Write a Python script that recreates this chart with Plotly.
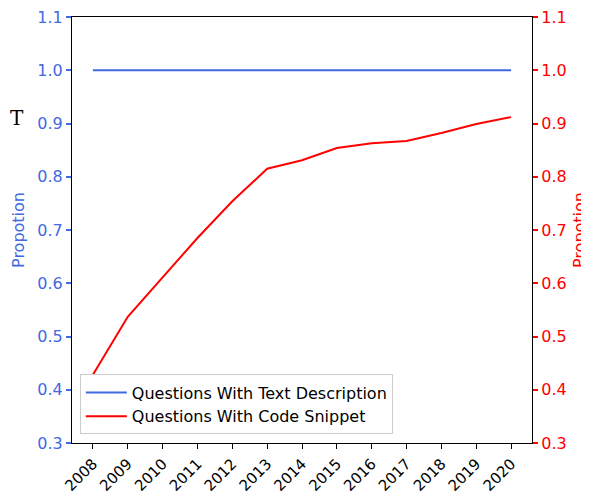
import plotly.graph_objects as go

years = [2008, 2009, 2010, 2011, 2012, 2013, 2014, 2015, 2016, 2017, 2018, 2019, 2020]
text_desc = [1.0, 1.0, 0.9995, 1.0, 1.0, 1.0, 1.0, 1.0, 1.0, 1.0, 1.0, 1.0, 1.0]
code_snip = [0.428, 0.537, 0.611, 0.685, 0.754, 0.815, 0.831, 0.854, 0.863, 0.867, 0.882, 0.899, 0.912]
yticks = [0.3, 0.4, 0.5, 0.6, 0.7, 0.8, 0.9, 1.0, 1.1]

BLUE = "#4169E1"
RED = "#FF0000"
FONT = "DejaVu Sans"

fig = go.Figure()
fig.add_trace(go.Scatter(x=years, y=text_desc, mode="lines", name="Questions With Text Description",
                         line=dict(color=BLUE, width=2), yaxis="y"))
fig.add_trace(go.Scatter(x=years, y=code_snip, mode="lines", name="Questions With Code Snippet",
                         line=dict(color=RED, width=2), yaxis="y2"))

fig.update_layout(
    width=581, height=486,
    margin=dict(l=64, r=57, t=9, b=51, pad=0),
    paper_bgcolor="white", plot_bgcolor="white",
    font=dict(family=FONT, size=16, color="black"),
    showlegend=True,
    legend=dict(x=0.017, y=0.02, xanchor="left", yanchor="bottom",
                bgcolor="rgba(255,255,255,0.8)", bordercolor="#cccccc", borderwidth=1,
                font=dict(family=FONT, size=16, color="black"), tracegroupgap=0, itemwidth=41),
    xaxis=dict(range=[2007.4, 2020.6], tickmode="array", tickvals=years,
               ticktext=[str(y) for y in years], tickangle=-45, automargin=False,
               showgrid=False, zeroline=False, showline=True, linecolor="black", linewidth=1.2,
               mirror=True, ticks="outside", ticklen=5, tickwidth=1.2, tickcolor="black",
               tickfont=dict(family=FONT, size=15, color="black")),
    yaxis=dict(range=[0.3, 1.1], tickmode="array", tickvals=yticks,
               ticktext=[f"{v:.1f}" for v in yticks], automargin=False, ticklabeloverflow="allow",
               showgrid=False, zeroline=False, showline=True, linecolor="black", linewidth=1.2,
               ticks="outside", ticklen=5, tickwidth=1.5, tickcolor=BLUE,
               tickfont=dict(family=FONT, size=16, color=BLUE),
               title=dict(text="Propotion", font=dict(family=FONT, size=16, color=BLUE), standoff=8)),
    yaxis2=dict(range=[0.3, 1.1], tickmode="array", tickvals=yticks,
                ticktext=[f"{v:.1f}" for v in yticks], automargin=False, ticklabeloverflow="allow",
                overlaying="y", side="right",
                showgrid=False, zeroline=False, showline=True, linecolor="black", linewidth=1.2,
                ticks="outside", ticklen=5, tickwidth=1.5, tickcolor=RED,
                tickfont=dict(family=FONT, size=16, color=RED),
                title=dict(text="Propotion", font=dict(family=FONT, size=16, color=RED), standoff=8)),
    annotations=[dict(text="T", xref="paper", yref="paper", x=-0.139, y=0.764,
                      xanchor="left", yanchor="middle", showarrow=False,
                      font=dict(family="DejaVu Serif", size=20, color="black"))],
)

fig.write_html("out.html")
